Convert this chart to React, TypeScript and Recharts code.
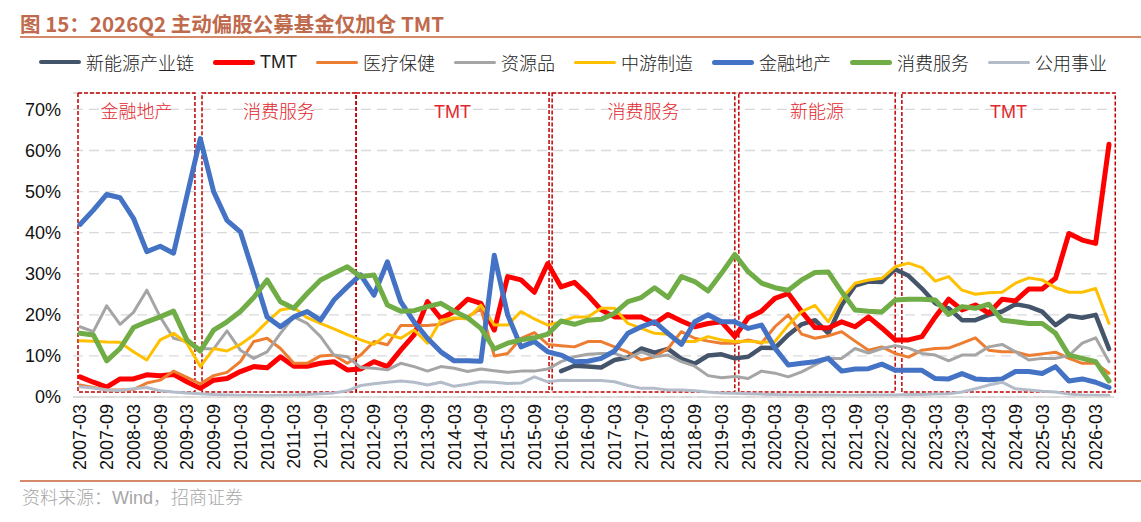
import { LineChart, Line, XAxis, YAxis, CartesianGrid, ReferenceArea } from "recharts"

// quarter-end labels, 2007-03 .. 2026-06
const quarters: string[] = []
for (let y = 2007; y <= 2026; y++) {
    for (const m of ["03", "06", "09", "12"]) quarters.push(`${y}-${m}`)
}
const periods = quarters.slice(0, 78)

// 行业配置比例 (%)，按季度
const newEnergy = [
    null, null, null, null, null, null, null, null, null, null, null, null,
    null, null, null, null, null, null, null, null, null, null, null, null,
    null, null, null, null, null, null, null, null, null, null, null, null,
    6.3, 7.6, 7.4, 7.2, 9.0, 9.6, 11.8, 10.8, 11.7, 9.3, 8.1, 10.1,
    10.4, 9.4, 9.8, 12.0, 11.9, 15.1, 17.7, 18.7, 15.5, 22.4, 27.1, 28.1,
    28.0, 31.1, 29.5, 26.4, 22.8, 21.6, 18.7, 18.7, 20.0, 20.8, 22.6, 22.0,
    20.8, 17.5, 19.8, 19.3, 20.0, 11.7,
]
const tmt = [
    4.9, 3.6, 2.4, 4.4, 4.4, 5.4, 5.2, 5.5, 3.7, 2.1, 4.1, 4.5,
    6.2, 7.4, 7.1, 9.8, 7.5, 7.5, 8.2, 8.6, 6.6, 6.8, 8.6, 7.4,
    11.4, 15.1, 23.2, 19.1, 20.8, 23.8, 22.8, 16.3, 29.3, 28.5, 25.5, 32.5,
    26.8, 27.9, 24.8, 21.2, 19.5, 19.5, 19.5, 17.9, 20.1, 18.5, 17.1, 17.9,
    18.3, 14.7, 19.3, 20.9, 24.0, 25.2, 20.8, 16.9, 16.8, 18.3, 17.1, 19.5,
    16.8, 13.9, 13.9, 14.7, 19.5, 23.8, 21.2, 22.4, 20.4, 23.8, 23.4, 26.3,
    26.3, 28.9, 39.8, 38.2, 37.4, 61.5,
]
const healthcare = [
    2.9, 2.3, 1.7, 1.7, 1.8, 3.4, 4.1, 6.3, 4.8, 3.2, 5.2, 6.0,
    8.6, 13.5, 14.3, 11.8, 8.2, 8.2, 10.0, 10.2, 8.2, 10.2, 13.5, 12.7,
    17.4, 17.4, 17.4, 17.7, 19.0, 19.5, 21.5, 10.0, 10.6, 14.3, 15.7, 12.8,
    12.5, 12.2, 13.5, 13.5, 12.2, 10.9, 9.0, 9.8, 11.8, 15.9, 14.3, 13.6,
    13.1, 13.1, 13.9, 13.1, 17.1, 20.0, 15.3, 14.3, 14.9, 15.9, 13.6, 11.4,
    12.2, 10.6, 9.7, 11.4, 11.8, 11.9, 13.1, 14.4, 11.4, 11.0, 11.0, 10.1,
    10.5, 10.9, 9.4, 8.2, 8.2, 5.8,
]
const resources = [
    17.1, 15.9, 22.2, 17.7, 20.6, 26.0, 19.5, 14.3, 13.5, 11.8, 11.7, 16.1,
    11.4, 9.4, 11.0, 15.5, 19.5, 17.9, 14.7, 10.2, 9.8, 7.2, 7.0, 6.6,
    8.2, 7.4, 6.3, 7.4, 7.0, 6.2, 6.8, 6.4, 6.0, 6.3, 6.3, 6.8,
    8.6, 9.8, 10.4, 10.6, 10.6, 9.4, 11.0, 9.8, 10.2, 8.6, 7.5, 5.2,
    4.7, 5.0, 4.5, 6.3, 5.8, 4.9, 6.1, 7.8, 9.4, 9.4, 11.8, 10.7,
    11.8, 12.5, 11.9, 10.6, 10.2, 8.8, 10.2, 10.2, 12.2, 12.8, 11.0, 9.0,
    9.4, 9.4, 10.1, 13.1, 14.4, 8.6,
]
const midstream = [
    13.7, 13.6, 13.4, 13.3, 11.0, 9.0, 13.9, 15.5, 13.1, 7.4, 11.8, 11.2,
    12.8, 15.1, 18.3, 21.2, 21.8, 19.3, 17.9, 16.6, 15.2, 13.9, 12.8, 15.3,
    14.3, 16.3, 13.1, 18.7, 19.3, 19.0, 22.4, 17.5, 17.5, 20.8, 19.0, 17.5,
    18.3, 19.5, 19.5, 21.6, 21.6, 17.9, 16.7, 15.5, 15.3, 13.5, 13.5, 14.7,
    13.9, 13.5, 13.6, 13.3, 13.5, 17.5, 20.8, 22.3, 18.3, 24.0, 27.7, 28.5,
    28.9, 31.7, 32.6, 31.5, 28.2, 29.3, 26.0, 25.0, 25.4, 25.5, 27.7, 29.0,
    28.5, 26.6, 25.5, 25.5, 26.4, 17.9,
]
const finance = [
    42.0, 45.5, 49.3, 48.5, 43.5, 35.4, 36.7, 35.0, 49.0, 62.9, 50.0, 43.0,
    40.2, 30.0, 19.5, 17.1, 19.5, 20.8, 18.7, 23.6, 26.8, 29.7, 24.8, 32.9,
    23.2, 18.3, 14.3, 11.0, 8.8, 8.8, 8.7, 34.5, 20.0, 12.2, 13.5, 11.0,
    10.2, 8.6, 8.7, 9.4, 11.2, 15.5, 17.1, 18.3, 15.5, 12.8, 18.3, 20.0,
    18.3, 18.3, 16.7, 17.5, 11.9, 7.8, 8.2, 8.6, 9.4, 6.3, 6.8, 6.9,
    8.0, 6.5, 6.5, 6.5, 4.5, 4.4, 5.7, 4.4, 4.2, 4.4, 6.2, 6.2,
    5.7, 7.4, 3.9, 4.4, 3.6, 2.3,
]
const consumer = [
    15.5, 15.1, 8.8, 11.8, 16.9, 18.3, 19.5, 20.9, 13.9, 11.2, 16.3, 18.3,
    20.8, 24.2, 28.5, 23.2, 21.6, 25.2, 28.5, 30.1, 31.7, 29.3, 29.7, 22.4,
    20.9, 21.0, 22.0, 22.8, 20.9, 19.3, 16.7, 11.7, 13.1, 13.9, 14.4, 15.3,
    18.5, 17.7, 18.7, 18.9, 20.4, 23.2, 24.2, 26.6, 24.2, 29.3, 28.1, 25.8,
    30.1, 34.7, 30.5, 27.7, 26.6, 26.0, 28.5, 30.3, 30.4, 25.6, 21.2, 20.9,
    20.7, 23.6, 23.8, 23.8, 23.6, 20.1, 22.0, 21.6, 22.6, 18.7, 18.3, 17.9,
    17.9, 15.5, 10.2, 9.4, 8.6, 3.9,
]
const utilities = [
    2.5, 2.2, 1.7, 1.6, 2.0, 2.3, 1.5, 1.2, 1.0, 0.8, 0.6, 0.5,
    0.4, 0.4, 0.3, 0.4, 0.5, 0.6, 0.8, 1.0, 1.5, 2.8, 3.2, 3.6,
    3.9, 3.6, 2.9, 3.6, 2.6, 3.1, 3.7, 3.6, 3.3, 3.4, 4.9, 3.7,
    4.1, 4.0, 4.0, 4.0, 3.7, 2.8, 2.1, 2.1, 1.7, 1.7, 1.5, 1.2,
    1.0, 0.9, 0.8, 0.7, 0.6, 0.5, 0.5, 0.5, 0.5, 0.4, 0.4, 0.5,
    0.5, 0.5, 0.6, 0.6, 0.7, 0.8, 1.2, 2.0, 2.9, 3.6, 2.0, 1.7,
    1.4, 1.2, 0.7, 0.5, 0.4, 0.4,
]

const yTicks = [0, 10, 20, 30, 40, 50, 60, 70]

// 各阶段加仓主线（以季度序号表示起止）
const stages = [
    { name: "金融地产", from: -0.15, to: 8.6 },
    { name: "消费服务", from: 9.13, to: 20.66 },
    { name: "TMT", from: 20.66, to: 35.1 },
    { name: "消费服务", from: 35.33, to: 49.0 },
    { name: "新能源", from: 49.3, to: 61.0 },
    { name: "TMT", from: 61.5, to: 77.47 },
]

const series = [
    { key: "新能源产业链", values: newEnergy, color: "#44546A", width: 4.5 },
    { key: "TMT", values: tmt, color: "#FF0000", width: 5 },
    { key: "医疗保健", values: healthcare, color: "#ED7D31", width: 3 },
    { key: "资源品", values: resources, color: "#A5A5A5", width: 3 },
    { key: "中游制造", values: midstream, color: "#FFC000", width: 3 },
    { key: "金融地产", values: finance, color: "#4472C4", width: 5 },
    { key: "消费服务", values: consumer, color: "#70AD47", width: 5 },
    { key: "公用事业", values: utilities, color: "#B4BCCA", width: 3 },
]

const rows = periods.map((q, idx) => {
    const row: Record<string, number | string | null> = { idx, q }
    series.forEach((s) => {
        row[s.key] = s.values[idx]
    })
    return row
})

const evenTicks = periods.map((_, i) => i).filter((i) => i % 2 === 0)

const latin = '"Liberation Sans", Arial, "Noto Sans CJK SC", sans-serif'
const cjk = '"Noto Sans CJK SC", "Liberation Sans", sans-serif'

function QuarterTick(props: any) {
    const { x, y, payload } = props
    return (
        <text
            x={x}
            y={y}
            transform={`rotate(-90, ${x}, ${y})`}
            textAnchor="end"
            dy="0.36em"
            fontSize={18}
            fontFamily={latin}
            fill="#111"
        >
            {periods[payload.value]}
        </text>
    )
}

function LegendRow() {
    return (
        <div
            style={{
                position: "absolute",
                left: 39,
                top: 50,
                display: "flex",
                alignItems: "center",
                height: 24,
                fontFamily: cjk,
                fontWeight: 300,
                fontSize: 18,
                color: "#222",
                whiteSpace: "nowrap",
            }}
        >
            {series.map((s) => (
                <div key={s.key} style={{ display: "flex", alignItems: "center", marginRight: 19 }}>
                    <span
                        style={{
                            display: "inline-block",
                            width: 42,
                            height: s.width,
                            background: s.color,
                            borderRadius: 3,
                            marginRight: 5,
                        }}
                    />
                    <span style={{ fontFamily: s.key === "TMT" ? latin : cjk, fontWeight: s.key === "TMT" ? 400 : 300 }}>
                        {s.key}
                    </span>
                </div>
            ))}
        </div>
    )
}

export default function App() {
    return (
        <div
            style={{
                position: "absolute",
                left: 0,
                top: 0,
                width: 1141,
                height: 522,
                background: "#fff",
                overflow: "hidden",
            }}
        >
            <div
                style={{
                    position: "absolute",
                    left: 20,
                    top: 8,
                    fontFamily: cjk,
                    fontWeight: 700,
                    fontSize: 20.5,
                    color: "#BF6A4D",
                    whiteSpace: "nowrap",
                }}
            >
                图 15：2026Q2 主动偏股公募基金仅加仓 TMT
            </div>
            <div style={{ position: "absolute", left: 20, right: 0, top: 36, height: 2, background: "#D48A68" }} />

            <LegendRow />

            <div style={{ position: "absolute", left: 0, top: 0 }}>
                <LineChart width={1141} height={490} data={rows} margin={{ top: 93, right: 27, bottom: 0, left: 0 }}>
                    <CartesianGrid vertical={false} stroke="#D9D9D9" strokeWidth={1.3} strokeDasharray="10 6" />
                    <XAxis
                        dataKey="idx"
                        type="number"
                        domain={[0, 77]}
                        ticks={evenTicks}
                        interval={0}
                        padding={{ left: 7, right: 5 }}
                        height={93}
                        tickLine={false}
                        tickSize={0}
                        tickMargin={7}
                        axisLine={{ stroke: "#D9D9D9", strokeWidth: 1.5 }}
                        tick={QuarterTick}
                    />
                    <YAxis
                        type="number"
                        domain={[0, 74]}
                        ticks={yTicks}
                        width={73}
                        axisLine={false}
                        tickLine={false}
                        tickSize={0}
                        tickMargin={12}
                        tickFormatter={(v) => `${v}%`}
                        tick={{ fontSize: 18, fill: "#111", fontFamily: latin }}
                    />
                    {stages.map((st, i) => (
                        <ReferenceArea
                            key={i}
                            x1={st.from}
                            x2={st.to}
                            y1={1.2}
                            y2={74}
                            ifOverflow="visible"
                            fill="none"
                            stroke="#C00000"
                            strokeWidth={1.5}
                            strokeDasharray="4 2"
                            label={{
                                value: st.name,
                                position: "insideTop",
                                offset: 12,
                                fill: "#E3262D",
                                fontSize: 18,
                                fontFamily: st.name === "TMT" ? latin : cjk,
                                fontWeight: 300,
                            }}
                        />
                    ))}
                    {series.map((s) => (
                        <Line
                            key={s.key}
                            type="linear"
                            dataKey={s.key}
                            stroke={s.color}
                            strokeWidth={s.width}
                            strokeLinejoin="round"
                            strokeLinecap="round"
                            dot={false}
                            activeDot={false}
                            isAnimationActive={false}
                        />
                    ))}
                </LineChart>
            </div>

            <div style={{ position: "absolute", left: 20, right: 0, top: 480, height: 2, background: "#D48A68" }} />
            <div
                style={{
                    position: "absolute",
                    left: 22,
                    top: 483,
                    fontFamily: cjk,
                    fontWeight: 300,
                    fontSize: 18,
                    color: "#A6A6A6",
                    whiteSpace: "nowrap",
                }}
            >
                资料来源：<span style={{ fontFamily: latin }}>Wind</span>，招商证券
            </div>
        </div>
    )
}
